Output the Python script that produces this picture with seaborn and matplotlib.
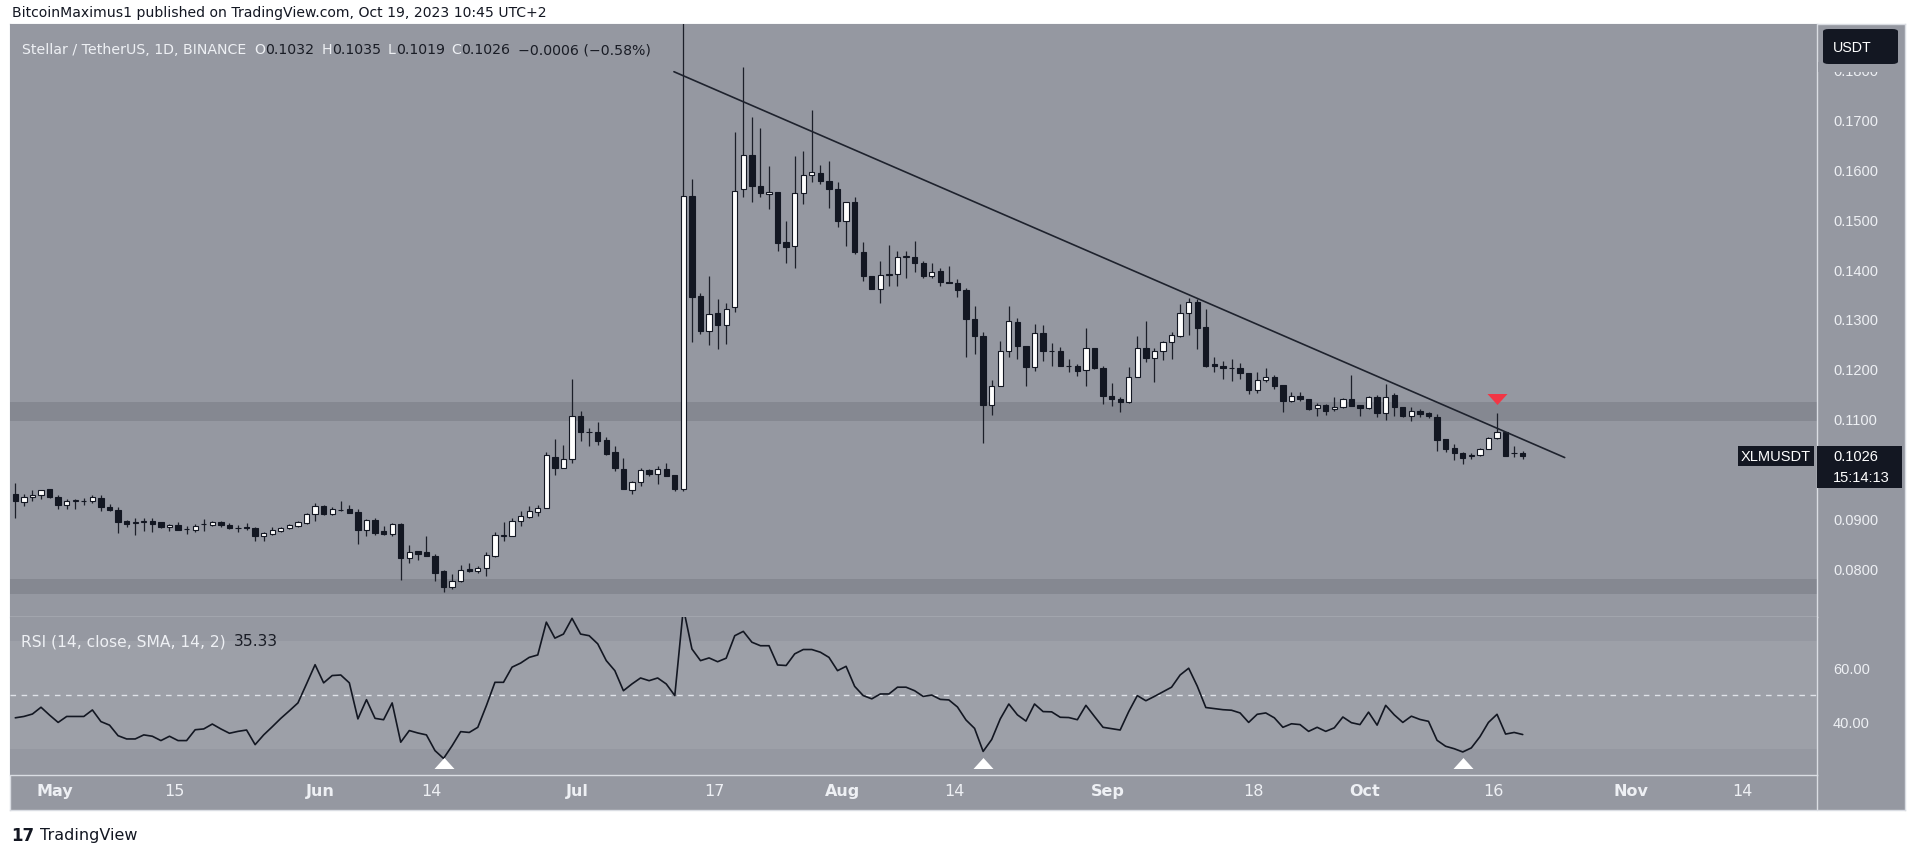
import numpy as np
import pandas as pd
import matplotlib
matplotlib.use("Agg")
import matplotlib.pyplot as plt
import seaborn as sns
from matplotlib import font_manager as fm
from matplotlib.patches import FancyBboxPatch, Rectangle
from matplotlib.lines import Line2D
from matplotlib.ticker import FuncFormatter

# ---------------- data ----------------
START_DATE = "2023-04-26"
opens = [
    .0949, .0932, .0942, .0946, .0958, .0942, .0926, .0934, .0934, .0934,
    .0940, .0922, .0917, .0894, .0891, .0893, .0895, .0892, .0883, .0887,
    .0879, .0877, .0888, .0887, .0892, .0887, .0881, .0883, .0881, .0865,
    .0869, .0875, .0881, .0885, .0891, .0909, .0925, .0909, .0917, .0919,
    .0912, .0877, .0897, .0874, .0869, .0889, .0820, .0835, .0832, .0825,
    .0794, .0762, .0774, .0798, .0794, .0800, .0825, .0865, .0864, .0894,
    .0903, .0913, .0920, .1024, .1002, .1019, .1106, .1074, .1073, .1058,
    .1034, .1000, .0957, .0972, .0996, .0988, .0998, .0986, .0959, .1547,
    .1347, .1275, .1312, .1287, .1323, .1561, .1628, .1567, .1550, .1555,
    .1454, .1446, .1553, .1589, .1593, .1577, .1561, .1497, .1534, .1435,
    .1387, .1361, .1388, .1390, .1425, .1425, .1412, .1386, .1396, .1375,
    .1373, .1359, .1299, .1265, .1127, .1165, .1235, .1293, .1246, .1203,
    .1272, .1235, .1236, .1206, .1205, .1198, .1241, .1201, .1146, .1139,
    .1133, .1184, .1241, .1221, .1235, .1253, .1266, .1312, .1335, .1283,
    .1210, .1206, .1202, .1202, .1191, .1158, .1178, .1183, .1168, .1135,
    .1145, .1139, .1121, .1127, .1119, .1123, .1139, .1127, .1121, .1143,
    .1111, .1147, .1123, .1106, .1116, .1111, .1104, .1059, .1042, .1032,
    .1026, .1027, .1040, .1061, .1073, .1031, .1032,
]
highs = [
    .0970, .0949, .0957, .0957, .0959, .0947, .0938, .0938, .0941, .0946,
    .0947, .0929, .0922, .0897, .0900, .0900, .0900, .0893, .0889, .0893,
    .0885, .0889, .0899, .0895, .0895, .0890, .0887, .0890, .0883, .0873,
    .0882, .0882, .0888, .0895, .0910, .0930, .0926, .0922, .0934, .0927,
    .0919, .0899, .0900, .0884, .0891, .0891, .0847, .0835, .0864, .0829,
    .0796, .0788, .0806, .0810, .0805, .0832, .0873, .0893, .0900, .0914,
    .0925, .0927, .1034, .1059, .1047, .1180, .1115, .1081, .1094, .1063,
    .1045, .1021, .0974, .1002, .1000, .1006, .1011, .0986, .1930, .1581,
    .1353, .1387, .1341, .1333, .1676, .1805, .1706, .1683, .1606, .1555,
    .1497, .1626, .1636, .1720, .1609, .1616, .1575, .1534, .1544, .1454,
    .1387, .1417, .1448, .1436, .1436, .1457, .1417, .1412, .1402, .1407,
    .1380, .1363, .1325, .1274, .1178, .1255, .1325, .1301, .1246, .1290,
    .1287, .1251, .1243, .1220, .1210, .1282, .1241, .1206, .1172, .1143,
    .1203, .1265, .1295, .1242, .1256, .1274, .1329, .1343, .1341, .1319,
    .1223, .1216, .1220, .1212, .1191, .1193, .1202, .1188, .1168, .1154,
    .1154, .1139, .1131, .1129, .1143, .1141, .1188, .1127, .1145, .1147,
    .1170, .1151, .1123, .1123, .1119, .1113, .1109, .1059, .1049, .1034,
    .1032, .1042, .1063, .1111, .1074, .1046, .1035,
]
lows = [
    .0900, .0924, .0935, .0939, .0940, .0918, .0918, .0918, .0927, .0930,
    .0915, .0915, .0871, .0882, .0867, .0875, .0873, .0881, .0875, .0876,
    .0869, .0872, .0875, .0885, .0882, .0879, .0873, .0877, .0855, .0855,
    .0867, .0873, .0879, .0883, .0889, .0895, .0907, .0907, .0915, .0911,
    .0849, .0865, .0867, .0867, .0864, .0777, .0810, .0817, .0824, .0774,
    .0753, .0758, .0772, .0792, .0790, .0784, .0822, .0855, .0864, .0885,
    .0901, .0904, .0920, .0987, .1001, .1012, .1056, .1045, .1047, .1028,
    .0994, .0958, .0949, .0964, .0984, .0968, .0984, .0954, .0955, .1254,
    .1270, .1248, .1240, .1250, .1313, .1544, .1534, .1544, .1521, .1437,
    .1412, .1402, .1531, .1575, .1571, .1522, .1484, .1446, .1430, .1377,
    .1361, .1333, .1367, .1367, .1383, .1394, .1382, .1382, .1367, .1373,
    .1345, .1223, .1230, .1051, .1108, .1165, .1223, .1220, .1166, .1196,
    .1216, .1205, .1205, .1193, .1186, .1166, .1200, .1129, .1126, .1113,
    .1131, .1183, .1213, .1173, .1218, .1220, .1263, .1267, .1240, .1203,
    .1193, .1180, .1175, .1180, .1149, .1152, .1173, .1160, .1113, .1133,
    .1135, .1117, .1106, .1108, .1115, .1121, .1126, .1106, .1119, .1103,
    .1098, .1106, .1103, .1096, .1104, .1101, .1036, .1034, .1017, .1009,
    .1020, .1026, .1039, .1059, .1026, .1024, .1019,
]
closes = [
    .0934, .0942, .0947, .0956, .0942, .0926, .0934, .0936, .0934, .0942,
    .0922, .0916, .0892, .0889, .0892, .0895, .0889, .0882, .0887, .0877,
    .0879, .0885, .0889, .0892, .0887, .0881, .0880, .0881, .0865, .0871,
    .0877, .0881, .0887, .0892, .0909, .0925, .0909, .0919, .0917, .0911,
    .0877, .0897, .0871, .0869, .0889, .0820, .0833, .0828, .0824, .0790,
    .0762, .0774, .0797, .0794, .0800, .0827, .0867, .0866, .0895, .0904,
    .0914, .0920, .1027, .1001, .1019, .1106, .1073, .1073, .1056, .1030,
    .1002, .0958, .0972, .0996, .0988, .0998, .0984, .0958, .1547, .1345,
    .1275, .1310, .1288, .1320, .1557, .1628, .1567, .1553, .1555, .1452,
    .1445, .1553, .1589, .1594, .1577, .1561, .1497, .1534, .1435, .1387,
    .1361, .1388, .1391, .1424, .1425, .1412, .1386, .1394, .1375, .1373,
    .1359, .1299, .1265, .1127, .1165, .1235, .1295, .1245, .1203, .1271,
    .1235, .1235, .1205, .1206, .1196, .1241, .1201, .1146, .1139, .1133,
    .1184, .1241, .1221, .1235, .1253, .1268, .1312, .1335, .1281, .1206,
    .1205, .1201, .1202, .1191, .1158, .1178, .1183, .1166, .1135, .1145,
    .1139, .1119, .1127, .1116, .1123, .1139, .1126, .1121, .1143, .1111,
    .1144, .1123, .1105, .1116, .1109, .1105, .1058, .1040, .1032, .1021,
    .1026, .1039, .1061, .1073, .1026, .1032, .1026,
]
rsi = [
    41.5, 42.0, 42.9, 45.4, 42.5, 39.8, 42.0, 42.0, 42.0, 44.4,
    40.1, 38.8, 34.9, 33.7, 33.7, 35.2, 34.7, 33.1, 34.7, 33.1,
    33.1, 37.1, 37.4, 39.2, 37.4, 35.8, 36.5, 37.0, 31.6, 35.2,
    38.2, 41.3, 44.1, 47.0, 54.0, 61.1, 54.4, 57.1, 57.3, 54.4,
    41.1, 48.2, 41.3, 40.8, 47.0, 32.5, 36.8, 35.9, 35.2, 29.4,
    26.5, 31.2, 36.4, 36.1, 38.0, 46.0, 54.6, 54.6, 60.2, 61.7,
    63.8, 64.7, 76.8, 70.9, 72.4, 78.2, 72.4, 71.8, 68.8, 62.6,
    58.9, 51.5, 54.0, 56.2, 55.2, 56.2, 54.0, 49.7, 82.0, 66.9,
    62.6, 63.6, 62.2, 63.5, 71.8, 73.4, 69.4, 68.1, 68.1, 61.0,
    60.8, 65.1, 66.7, 66.7, 65.7, 63.8, 58.9, 60.5, 53.1, 49.7,
    48.5, 50.3, 50.3, 52.8, 52.8, 51.5, 49.4, 49.9, 48.3, 48.1,
    45.5, 40.7, 37.6, 29.1, 33.5, 41.1, 46.6, 42.6, 40.3, 46.6,
    43.8, 43.7, 41.7, 41.6, 40.8, 46.1, 42.0, 38.0, 37.5, 37.0,
    43.8, 49.7, 47.8, 49.4, 51.1, 52.8, 57.3, 59.8, 53.2, 45.3,
    44.9, 44.5, 44.3, 43.3, 39.8, 42.8, 43.3, 41.5, 38.0, 39.3,
    39.0, 36.5, 38.0, 36.5, 37.8, 41.8, 39.7, 39.0, 43.6, 38.8,
    46.1, 42.6, 39.8, 42.1, 40.9, 40.2, 33.2, 31.0, 30.1, 28.9,
    30.4, 34.5, 39.8, 42.8, 35.5, 36.1, 35.33,
]
sr_zones = [(0.1096, 0.1133), (0.0748, 0.0778)]
trend_idx = [76.9, 180.9]
trend_price = [0.1796, 0.1022]
rsi_signal_idx = [50, 113, 169]
sell_signal_idx = [173]
# 0.1000 is hidden behind the last-price tag in the reference
price_ticks = [0.08, 0.09, 0.11, 0.12, 0.13, 0.14, 0.15, 0.16, 0.17, 0.18]
rsi_ticks = [40, 60]
date_ticks = ["2023-05-01", "2023-05-15", "2023-06-01", "2023-06-14", "2023-07-01",
              "2023-07-17", "2023-08-01", "2023-08-14", "2023-09-01", "2023-09-18",
              "2023-10-01", "2023-10-16", "2023-11-01", "2023-11-14"]
date_tick_labels = ["May", "15", "Jun", "14", "Jul", "17", "Aug", "14", "Sep", "18",
                    "Oct", "16", "Nov", "14"]
symbol_title = "Stellar / TetherUS, 1D, BINANCE"
publisher = "BitcoinMaximus1 published on TradingView.com, Oct 19, 2023 10:45 UTC+2"
countdown = "15:14:13"

# ---------------- style ----------------
sns.set_theme(style="white")
names = {f.name for f in fm.fontManager.ttflist}
NARROW = "Liberation Sans Narrow" if "Liberation Sans Narrow" in names else "DejaVu Sans"
REG = "Liberation Sans" if "Liberation Sans" in names else "DejaVu Sans"
plt.rcParams["font.family"] = [REG, "DejaVu Sans"]

BG = "#9598a1"
BAND = "#9da0a8"
ZONE = "#858891"
DARK = "#131722"
LIGHT = "#eef0f4"
LINE = "#dadde3"

W, H = 1912, 853
fig = plt.figure(figsize=(W / 100, H / 100), dpi=100)
fig.patch.set_facecolor("white")


def fx(px):
    return px / W


def fy(py):
    return 1 - py / H


# frame
bg = fig.add_axes([fx(10), fy(811), (1905 - 10) / W, (811 - 25) / H])
bg.set_facecolor(BG)
bg.set_xticks([])
bg.set_yticks([])
for s in bg.spines.values():
    s.set_color(LINE)
    s.set_linewidth(1)

ax = fig.add_axes([fx(10), fy(618), (1817 - 10) / W, (618 - 25) / H])
rs = fig.add_axes([fx(10), fy(776), (1817 - 10) / W, (776 - 618) / H], sharex=ax)
for a in (ax, rs):
    a.set_facecolor(BG)
    a.grid(False)
    for k, s in a.spines.items():
        s.set_visible(k in ("bottom", "right"))
        s.set_color(LINE)
        s.set_linewidth(1)

fig.add_artist(Line2D([fx(1817), fx(1817)], [fy(776), fy(811)], color=LINE, lw=1,
                      transform=fig.transFigure))

n = len(closes)
idx = np.arange(n)
o = np.array(opens); h = np.array(highs); l = np.array(lows); c = np.array(closes)
assert len(o) == len(h) == len(l) == len(c) == len(rsi) == n

# S/R zones
for lo, hi in sr_zones:
    ax.axhspan(lo, hi, color=ZONE, lw=0, zorder=0.5)

# candles
ax.vlines(idx, l, h, color="#1c1f29", lw=0.9, zorder=2)
up = c >= o
bottom = np.minimum(o, c)
height = np.maximum(np.abs(c - o), 0.00006)
ax.bar(idx[up], height[up], bottom=bottom[up], width=0.62, color="white",
       edgecolor=DARK, linewidth=0.8, zorder=3)
ax.bar(idx[~up], height[~up], bottom=bottom[~up], width=0.62, color=DARK,
       edgecolor=DARK, linewidth=0.8, zorder=3)

# trend line
sns.lineplot(x=trend_idx, y=trend_price, ax=ax, color="#1e222d", lw=1.2, zorder=4)

# sell signal marker
down_tri = [(-1, 0.55), (1, 0.55), (0, -0.55)]
ax.plot(idx[sell_signal_idx], h[sell_signal_idx] + 0.0029, ls="none", marker=down_tri,
        ms=14.4, color="#f23645", mec="none", zorder=5)

ax.set_xlim(-0.62, 210.36)
ax.set_ylim(0.07021, 0.18917)
ax.yaxis.tick_right()
ax.set_yticks(price_ticks)
ax.yaxis.set_major_formatter(FuncFormatter(lambda v, p: f"{v:.4f}"))
ax.tick_params(axis="y", length=0, pad=11.5, labelsize=10.5, labelcolor=LIGHT)
ax.tick_params(axis="x", length=0, labelbottom=False)
ax.set_xlabel("")
ax.set_ylabel("")

# RSI panel
rs.axhspan(30, 70, color=BAND, lw=0, zorder=0)
rs.axhline(50, color="#dfe2e8", lw=1, ls=(0, (4, 4)), zorder=1)
sns.lineplot(x=idx, y=rsi, ax=rs, color=DARK, lw=1.2, zorder=3)
up_tri = [(-1, -0.55), (1, -0.55), (0, 0.55)]
rs.plot(rsi_signal_idx, [25.0] * len(rsi_signal_idx), ls="none", marker=up_tri, ms=14.4,
        color="white", mec="none", zorder=4)
rs.set_ylim(20.4, 78.7)
rs.yaxis.tick_right()
rs.set_yticks(rsi_ticks)
rs.yaxis.set_major_formatter(FuncFormatter(lambda v, p: f"{v:.2f}"))
rs.tick_params(axis="y", length=0, pad=11.5, labelsize=10.5, labelcolor=LIGHT)
start = pd.Timestamp(START_DATE)
tick_pos = [(pd.Timestamp(d) - start).days - 0.4 for d in date_ticks]
rs.set_xticks(tick_pos)
rs.set_xticklabels(date_tick_labels)
rs.tick_params(axis="x", length=0, pad=6, labelsize=11.5, labelcolor=LIGHT)
for t, lab in zip(rs.get_xticklabels(), date_tick_labels):
    t.set_family(NARROW)
    if not lab.isdigit():
        t.set_fontweight("bold")
rs.set_xlabel("")
rs.set_ylabel("")

# ---------------- texts ----------------
renderer = fig.canvas.get_renderer()


def pieces(x_px, y_px, items, size, family):
    x = x_px
    for s, col, gap in items:
        t = fig.text(fx(x), fy(y_px), s, color=col, fontsize=size, family=family,
                     ha="left", va="center")
        x += t.get_window_extent(renderer).width + gap


fig.text(fx(12), fy(13), publisher, color=DARK, fontsize=10.1, family=NARROW,
         ha="left", va="center")

chg = c[-1] - c[-2]
pct = chg / c[-2] * 100
fmt = lambda v: f"{v:.4f}"
chg_s = (f"{chg:+.4f} ({pct:+.2f}%)").replace("-", "\u2212")
VAL = "#1a1d26"
pieces(22, 50, [
    (symbol_title, LIGHT, 8),
    ("O", LIGHT, 0), (fmt(o[-1]), VAL, 7),
    ("H", LIGHT, 0), (fmt(h[-1]), VAL, 7),
    ("L", LIGHT, 0), (fmt(l[-1]), VAL, 7),
    ("C", LIGHT, 0), (fmt(c[-1]), VAL, 7),
    (chg_s, VAL, 0),
], 10.2, NARROW)

pieces(21, 642, [("RSI (14, close, SMA, 14, 2)", LIGHT, 8), (f"{rsi[-1]:.2f}", VAL, 0)],
       11.2, NARROW)

# mask that clips the top of the highest scale label, then the USDT box
fig.add_artist(Rectangle((fx(1818), fy(73)), 86 / W, 10 / H, transform=fig.transFigure,
                         facecolor=BG, edgecolor="none"))
fig.add_artist(FancyBboxPatch((fx(1823), fy(65)), 75 / W, 35 / H,
                              boxstyle="round,pad=0,rounding_size=0.003",
                              transform=fig.transFigure, facecolor=DARK, edgecolor="none"))
fig.text(fx(1852), fy(47.5), "USDT", color="white", fontsize=10.3, ha="center", va="center")

# last price tags
yc_disp = ax.transData.transform((0, c[-1]))[1]
yc = H - yc_disp
fig.add_artist(Rectangle((fx(1738), fy(yc + 10)), 76 / W, 20 / H, transform=fig.transFigure,
                         facecolor=DARK, edgecolor="none"))
fig.add_artist(Rectangle((fx(1817), fy(yc + 32)), 85 / W, 42 / H, transform=fig.transFigure,
                         facecolor=DARK, edgecolor="none"))
fig.text(fx(1776), fy(yc), "XLMUSDT", color="white", fontsize=10.5, ha="center", va="center")
fig.text(fx(1833), fy(yc), fmt(c[-1]), color="white", fontsize=10.5, ha="left", va="center")
fig.text(fx(1833), fy(yc + 21), countdown, color="white", fontsize=10.5, ha="left", va="center")

# TradingView logo
fig.text(fx(11), fy(836), "17", color=DARK, fontsize=12, fontweight="heavy", family=NARROW,
         ha="left", va="center")
fig.text(fx(40), fy(836), "TradingView", color=DARK, fontsize=11.5, family=NARROW,
         ha="left", va="center")

fig.savefig("out.png", dpi=100, facecolor="white")
